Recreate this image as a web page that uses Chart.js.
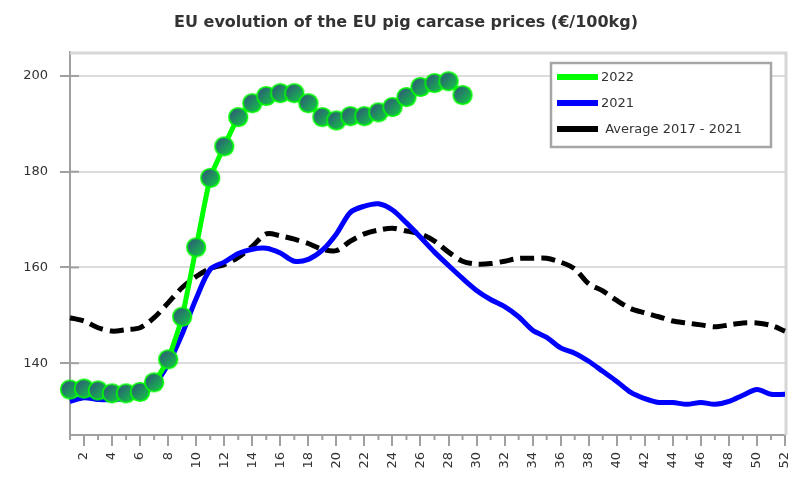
<!DOCTYPE html>
<html lang="en">
<head>
    <meta charset="UTF-8">
    <title>EU pig carcase prices</title>
    <script src="https://cdn.jsdelivr.net/npm/chart.js"></script>
    <style>
        body { margin: 0; background: #fff; }
        canvas { display: block; }
    </style>
</head>
<body>
    <canvas id="chart" width="794" height="483"></canvas>

    <script>
        // week numbers on the x axis
        const weeks = [1, 2, 3, 4, 5, 6, 7, 8, 9, 10, 11, 12, 13, 14, 15, 16, 17, 18, 19, 20, 21, 22, 23, 24, 25, 26,
            27, 28, 29, 30, 31, 32, 33, 34, 35, 36, 37, 38, 39, 40, 41, 42, 43, 44, 45, 46, 47, 48, 49, 50, 51, 52];
        const yTicks = [140, 160, 180, 200];

        const price2022 = [134.5, 134.7, 134.3, 133.7, 133.7, 134.0, 136.0, 140.8, 149.7, 164.2, 178.7, 185.3, 191.4,
            194.3, 195.8, 196.4, 196.4, 194.3, 191.4, 190.7, 191.6, 191.6, 192.4, 193.5, 195.6, 197.7, 198.5, 198.9, 196.0];
        const price2021 = [132.0, 132.8, 132.4, 132.4, 132.6, 133.5, 135.4, 139.8, 146.1, 153.5, 159.6, 161.1, 162.9,
            163.8, 164.0, 163.0, 161.3, 161.7, 163.6, 167.0, 171.5, 172.8, 173.3, 172.0, 169.3, 166.3, 163.2, 160.4,
            157.7, 155.2, 153.3, 151.8, 149.7, 146.9, 145.4, 143.2, 142.1, 140.4, 138.3, 136.2, 133.9, 132.6, 131.8,
            131.8, 131.4, 131.8, 131.4, 132.0, 133.3, 134.5, 133.5, 133.5];
        const avg1721 = [149.5, 148.8, 147.4, 146.7, 147.0, 147.4, 149.5, 152.6, 155.8, 158.1, 159.8, 160.6, 162.1,
            164.4, 167.0, 166.6, 165.9, 165.0, 163.8, 163.5, 165.5, 167.0, 167.8, 168.2, 167.6, 167.0, 165.5, 163.2,
            161.3, 160.7, 160.8, 161.3, 161.9, 161.9, 161.9, 161.1, 159.7, 156.6, 155.1, 153.1, 151.4, 150.5, 149.7,
            148.8, 148.4, 148.0, 147.6, 148.0, 148.4, 148.4, 147.9, 146.7];

        const seriesNames = ['2022', '2021', 'Average 2017 - 2021'];
        const seriesColors = ['#00ff00', '#0000ff', '#000000'];

        const FONT = '"DejaVu Sans", Verdana, sans-serif';
        const TEXT = '#333333';
        const AXIS = '#a0a0a0';

        // round marker with a dark-to-green gradient, bright green rim
        const marker = document.createElement('canvas');
        marker.width = 22;
        marker.height = 22;
        (function () {
            const m = marker.getContext('2d');
            const g = m.createLinearGradient(4, 4, 18, 18);
            g.addColorStop(0, '#2e5a78');
            g.addColorStop(1, '#14c248');
            m.beginPath();
            m.arc(11, 11, 9.3, 0, Math.PI * 2);
            m.fillStyle = g;
            m.fill();
            m.lineWidth = 1.6;
            m.strokeStyle = '#00ff00';
            m.stroke();
        })();

        const decorations = {
            id: 'decorations',
            beforeDatasetsDraw(chart) {
                const { ctx, chartArea: a } = chart;
                ctx.save();
                ctx.strokeStyle = '#d6d6d6';
                ctx.lineWidth = 3;
                ctx.beginPath();
                ctx.moveTo(a.left, a.top + 1);
                ctx.lineTo(a.right + 1, a.top + 1);
                ctx.lineTo(a.right + 1, a.bottom);
                ctx.stroke();

                // short ticks for odd weeks
                const x = chart.scales.x;
                ctx.strokeStyle = AXIS;
                ctx.lineWidth = 2;
                weeks.forEach((w, i) => {
                    if (w % 2 === 1) {
                        const px = x.getPixelForValue(i);
                        ctx.beginPath();
                        ctx.moveTo(px, a.bottom);
                        ctx.lineTo(px, a.bottom + 5);
                        ctx.stroke();
                    }
                });
                // y ticks poke a little into the plot
                const y = chart.scales.y;
                yTicks.forEach(v => {
                    const py = y.getPixelForValue(v);
                    ctx.beginPath();
                    ctx.moveTo(a.left, py);
                    ctx.lineTo(a.left + 9, py);
                    ctx.stroke();
                });
                ctx.restore();
            },
            afterDraw(chart) {
                const ctx = chart.ctx;
                ctx.save();
                // title
                ctx.fillStyle = TEXT;
                ctx.font = 'bold 16px ' + FONT;
                ctx.textAlign = 'center';
                ctx.textBaseline = 'middle';
                ctx.fillText('EU evolution of the EU pig carcase prices (€/100kg)', 406, 23);

                // legend box
                ctx.fillStyle = '#ffffff';
                ctx.fillRect(551, 63, 220, 84);
                ctx.strokeStyle = '#a6a6a6';
                ctx.lineWidth = 2.5;
                ctx.strokeRect(551, 63, 220, 84);

                ctx.font = '13px ' + FONT;
                ctx.textAlign = 'left';
                seriesNames.forEach((name, i) => {
                    const y = 77 + i * 26;
                    ctx.fillStyle = seriesColors[i];
                    ctx.fillRect(557, y - 3, 41, 6);
                    ctx.fillStyle = TEXT;
                    ctx.fillText(i === 2 ? ' ' + name : name, 601, y + 1);
                });
                ctx.restore();
            }
        };

        new Chart(document.getElementById('chart'), {
            type: 'line',
            data: {
                labels: weeks,
                datasets: [{
                    label: seriesNames[0],
                    data: price2022,
                    borderColor: seriesColors[0],
                    borderWidth: 5,
                    tension: 0.15,
                    pointStyle: marker,
                    pointRadius: 10
                }, {
                    label: seriesNames[1],
                    data: price2021,
                    borderColor: seriesColors[1],
                    borderWidth: 5,
                    tension: 0.3,
                    pointRadius: 0
                }, {
                    label: seriesNames[2],
                    data: avg1721,
                    borderColor: seriesColors[2],
                    borderWidth: 5,
                    borderDash: [14, 7],
                    tension: 0.3,
                    pointRadius: 0
                }]
            },
            options: {
                responsive: false,
                animation: false,
                devicePixelRatio: 1,
                layout: { autoPadding: false, padding: { top: 52, right: 9, left: 0, bottom: 0 } },
                scales: {
                    x: {
                        offset: false,
                        afterFit(scale) {
                            scale.height = 48;
                            scale.paddingLeft = 0;
                            scale.paddingRight = 0;
                        },
                        grid: {
                            drawOnChartArea: false,
                            tickLength: 11,
                            lineWidth: 2,
                            color: (c) => (c.index % 2 === 1 ? AXIS : 'rgba(0,0,0,0)')
                        },
                        border: { color: AXIS, width: 2 },
                        ticks: {
                            autoSkip: false,
                            maxRotation: 90,
                            minRotation: 90,
                            padding: 6,
                            color: TEXT,
                            font: { family: FONT, size: 13 },
                            callback: (v, i) => (weeks[i] % 2 === 0 ? String(weeks[i]) : '')
                        }
                    },
                    y: {
                        min: 125,
                        max: 205,
                        afterFit(scale) { scale.width = 70; },
                        afterBuildTicks(scale) { scale.ticks = yTicks.map(v => ({ value: v })); },
                        grid: {
                            color: '#dcdcdc',
                            lineWidth: 2,
                            tickLength: 10,
                            tickColor: AXIS
                        },
                        border: { color: AXIS, width: 2 },
                        ticks: {
                            padding: 12,
                            color: TEXT,
                            font: { family: FONT, size: 13 }
                        }
                    }
                },
                plugins: {
                    legend: { display: false },
                    tooltip: { enabled: false }
                }
            },
            plugins: [decorations]
        });
    </script>
</body>
</html>
